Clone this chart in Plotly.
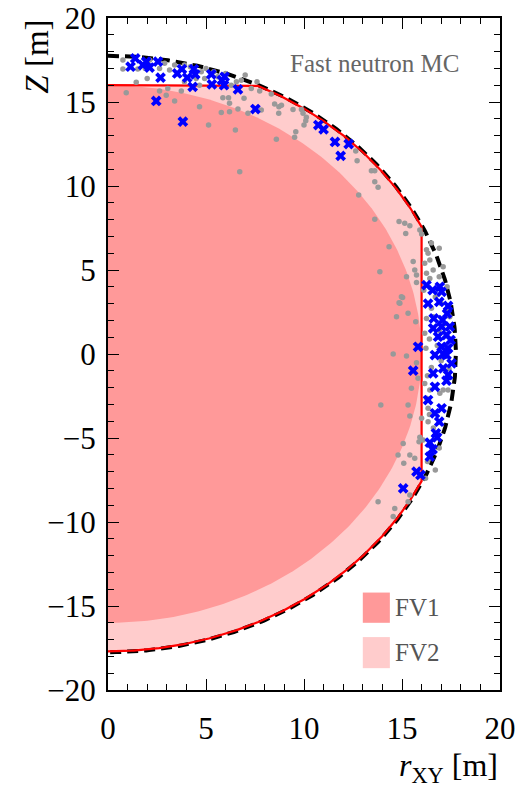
import numpy as np
import plotly.graph_objects as go

# Detector / fiducial-volume geometry [m]
R_DET = 17.7        # detector radius (dashed outline)
R_FV1 = 16.0        # FV1: sphere radius
R_FV2 = 17.7        # FV2: sphere radius ...
CUT_Z_FV2 = 16.0    # ... with |z| top cut
CUT_R_FV2 = 16.0    # ... and r_xy cut

# Fast-neutron MC events (all vertices, grey)
bg_r = [0.76, 0.76, 1.52, 2.12, 2.63, 2.0, 1.44, 2.89, 3.14, 3.4, 3.9, 4.76, 4.67, 4.93, 5.6,
        6.29, 6.55, 6.8, 7.31, 7.74, 0.93, 2.63, 3.05, 2.97, 3.4, 3.74, 4.67, 5.13, 5.86, 6.15,
        6.2, 5.78, 6.2, 6.63, 6.94, 7.14, 6.5, 7.82, 3.9, 6.72, 4.2, 5.0, 5.4, 6.0, 7.0, 7.6,
        1.9, 4.5,
        8.33, 8.5, 8.72, 8.85, 8.71, 9.44, 9.87, 9.95, 10.12, 10.0, 10.09, 9.58, 9.52, 8.59,
        12.64, 12.71, 13.44, 13.61, 13.61, 13.78, 12.79, 13.61, 14.85, 15.14, 15.4, 15.19,
        15.91, 16.0,
        14.34, 15.57, 15.65, 15.74, 15.74, 15.23, 15.03, 14.89, 14.72, 15.31, 15.7, 16.33,
        16.25, 16.42, 16.59, 16.25, 16.42, 16.16, 16.11, 16.5, 16.25, 16.59, 16.22, 16.16,
        17.27, 17.0, 17.44, 13.87, 14.97, 14.85,
        14.55, 15.23, 15.74, 15.82, 15.48, 13.92, 15.31, 15.4, 16.0, 16.33, 16.16, 16.42,
        16.93, 17.1, 17.35, 15.91, 15.87, 15.06, 16.08, 14.8, 15.4, 15.65, 15.09, 16.33, 16.25,
        13.78, 14.63, 14.55, 15.31, 15.4,
        16.4, 16.8, 17.0, 16.5, 16.9, 17.2, 16.7, 16.9, 17.1, 16.4, 16.6, 16.9, 16.3, 16.7,
        16.2, 16.5, 16.9, 17.3, 17.4, 16.3]
bg_z = [17.5, 16.96, 16.96, 17.5, 17.0, 16.4, 16.17, 17.3, 16.9, 17.2, 17.2, 16.8, 16.0, 16.4, 16.5,
        16.0, 16.2, 16.3, 15.8, 15.65, 15.55, 15.65, 15.8, 15.4, 15.06, 15.65, 14.72, 13.63, 15.26, 15.26,
        14.92, 14.38, 14.42, 14.58, 15.22, 14.33, 13.33, 14.52, 16.2, 10.85, 17.1, 17.0, 16.8, 16.7, 16.6, 16.2,
        17.0, 16.4,
        15.48, 14.88, 14.72, 14.8, 14.33, 14.56, 14.56, 14.33, 14.09, 13.63, 13.89, 13.23, 12.9, 12.78,
        12.08, 11.5, 10.91, 10.91, 10.26, 9.92, 9.46, 8.02, 7.88, 7.78, 7.64, 7.18,
        7.38, 7.14,
        6.39, 5.5, 5.0, 4.7, 4.25, 4.6, 3.37, 3.02, 2.22, 2.42, 1.92, 6.0,
        6.2, 5.6, 5.0, 4.8, 4.5, 5.4, 3.8, 2.72, 2.12, 2.22, 0.34, 1.23,
        2.62, 3.0, 2.22, 4.9, 3.41, 3.05,
        0.0, -0.12, -0.52, -1.45, -2.04, -3.04, -3.04, -3.69, -3.83, -4.03, -1.75, -2.14,
        -2.34, -2.14, -2.14, -4.96, -5.22, -5.32, -5.12, -6.01, -6.01, -6.21, -6.51, -3.23, -2.64,
        -8.79, -9.19, -9.68, -8.79, -8.39,
        0.9, 0.5, -0.4, -0.8, 1.4, 1.8, 3.4, 4.6, 5.2, -3.6, -4.4, -5.6, -6.4, -6.9,
        -7.4, 6.6, 6.3, 4.0, -0.9, -1.3]

# Events passing the selection (blue)
sel_r = [1.39, 1.15, 1.95, 1.78, 2.12, 2.55, 2.68, 3.53, 3.77, 4.04, 4.38, 4.45, 4.32, 5.27, 5.3,
         5.81, 5.92, 5.95, 6.63, 2.46, 3.82, 7.52,
         10.73, 11.0, 11.58, 12.28, 11.87,
         16.25, 16.56, 16.93, 17.02, 16.33, 16.9, 17.35, 16.62, 17.07, 16.59, 17.02, 17.44, 17.27,
         16.84, 17.48, 17.02, 15.82, 16.68, 17.35, 17.27, 17.53, 17.1, 16.59, 17.35, 15.57, 16.68,
         17.27, 16.33, 17.02, 16.68, 16.9, 16.73, 16.79, 16.42, 16.56, 16.42, 15.74, 15.94, 15.06,
         17.3, 17.1]
sel_z = [17.6, 17.1, 17.4, 17.2, 17.05, 17.4, 16.45, 16.7, 16.96, 16.45, 16.96, 16.65, 15.9, 16.65, 16.05,
         16.3, 16.0, 16.5, 15.75, 15.06, 13.83, 14.58,
         13.63, 13.37, 12.62, 12.5, 11.79,
         4.1, 3.8, 4.0, 3.7, 3.0, 3.1, 2.86, 2.12, 2.02, 1.53, 1.63, 1.63, 1.13,
         1.03, 0.83, 0.43, 0.43, -0.06, 0.34, -0.06, -0.56, -0.85, -1.15, -1.25, -0.99, -1.95,
         -1.59, -2.74, -3.23, -3.53, -4.03, -4.72, -4.96, -5.28, -5.67, -6.11, -7.0, -7.2, -8.0,
         2.4, 0.0]

SERIF = "Liberation Serif"

# FV1: half-disk in the (r_xy, z) plane
th = np.linspace(np.pi / 2, -np.pi / 2, 300)
fv1_r = np.concatenate([[0], R_FV1 * np.cos(th), [0]])
fv1_z = np.concatenate([[R_FV1], R_FV1 * np.sin(th), [R_FV1]])

# FV2 outline: flat top at z=CUT_Z, arc, vertical wall at r=CUT_R, arc to bottom pole
th_top = np.arcsin(CUT_Z_FV2 / R_FV2)
th_wall = np.arccos(CUT_R_FV2 / R_FV2)
a1 = np.linspace(th_top, th_wall, 120)
a2 = np.linspace(-th_wall, -np.pi / 2, 200)
fv2_edge_r = np.concatenate([[0], R_FV2 * np.cos(a1), R_FV2 * np.cos(a2)])
fv2_edge_z = np.concatenate([[CUT_Z_FV2], R_FV2 * np.sin(a1), R_FV2 * np.sin(a2)])
fv2_r = np.concatenate([fv2_edge_r, [0]])
fv2_z = np.concatenate([fv2_edge_z, [CUT_Z_FV2]])

# Detector boundary
thd = np.linspace(np.pi / 2, -np.pi / 2, 400)
det_r = (R_DET + 0.05) * np.cos(thd)
det_z = (R_DET + 0.05) * np.sin(thd)

fig = go.Figure()
fig.add_trace(go.Scatter(x=fv2_r, y=fv2_z, fill="toself", fillcolor="#ffcccc",
                         line=dict(width=0), mode="lines", hoverinfo="skip", showlegend=False))
fig.add_trace(go.Scatter(x=fv1_r, y=fv1_z, fill="toself", fillcolor="#ff9999",
                         line=dict(width=0), mode="lines", hoverinfo="skip", showlegend=False))
fig.add_trace(go.Scatter(x=det_r, y=det_z, mode="lines",
                         line=dict(color="black", width=4, dash="11px,6px"),
                         hoverinfo="skip", showlegend=False))
fig.add_trace(go.Scatter(x=fv2_edge_r, y=fv2_edge_z, mode="lines",
                         line=dict(color="#ff0000", width=2.2), hoverinfo="skip", showlegend=False))
fig.add_trace(go.Scatter(x=bg_r, y=bg_z, mode="markers",
                         marker=dict(color="#999999", size=5.5, line=dict(width=0)),
                         name="All events", showlegend=False))
fig.add_trace(go.Scatter(x=sel_r, y=sel_z, mode="markers",
                         marker=dict(color="#0000ff", size=9.5, symbol="x", line=dict(width=0)),
                         name="Selected", showlegend=False))

# Legend keys
legend_items = [("FV1", "#ff9999", -14.2, -16.0), ("FV2", "#ffcccc", -16.85, -18.7)]
for label, color, y0, y1 in legend_items:
    fig.add_shape(type="rect", xref="x", yref="y", x0=13.0, x1=14.38, y0=y1, y1=y0,
                  fillcolor=color, line=dict(width=0), layer="above")
    fig.add_annotation(x=14.55, y=(y0 + y1) / 2, xref="x", yref="y", text=label,
                       showarrow=False, xanchor="left", yanchor="middle",
                       font=dict(family=SERIF, size=25, color="#555555"))

fig.add_annotation(x=13.6, y=17.3, xref="x", yref="y", text="Fast neutron MC",
                   showarrow=False, xanchor="center", yanchor="middle",
                   font=dict(family=SERIF, size=25, color="#666666"))

# Axis titles, aligned to the axis ends
fig.add_annotation(x=1.0, y=-0.115, xref="paper", yref="paper",
                   text="<i>r</i><sub>XY</sub> [m]", showarrow=False,
                   xanchor="right", yanchor="middle",
                   font=dict(family=SERIF, size=32, color="black"))
fig.add_annotation(x=-0.182, y=1.0, xref="paper", yref="paper",
                   text="<i>Z</i> [m]", showarrow=False, textangle=-90,
                   xanchor="center", yanchor="top",
                   font=dict(family=SERIF, size=33, color="black"))

axis_common = dict(showgrid=False, zeroline=False, showline=True, linecolor="black",
                   linewidth=2, mirror="allticks", ticks="inside", ticklen=11,
                   tickwidth=1.3, tickcolor="black", automargin=False,
                   tickfont=dict(family=SERIF, size=31, color="black"))
fig.update_xaxes(range=[0, 20], dtick=5, tick0=0,
                 minor=dict(dtick=1, ticks="inside", ticklen=6, tickwidth=1.2, tickcolor="black"),
                 ticklabelstandoff=10, **axis_common)
fig.update_yaxes(range=[-20, 20], dtick=5, tick0=0,
                 minor=dict(dtick=1, ticks="inside", ticklen=6, tickwidth=1.2, tickcolor="black"),
                 ticklabelstandoff=4, **axis_common)

fig.update_layout(width=520, height=790, margin=dict(l=108, r=20, t=18, b=100),
                  plot_bgcolor="white", paper_bgcolor="white", showlegend=False)

fig.write_html("out.html")
